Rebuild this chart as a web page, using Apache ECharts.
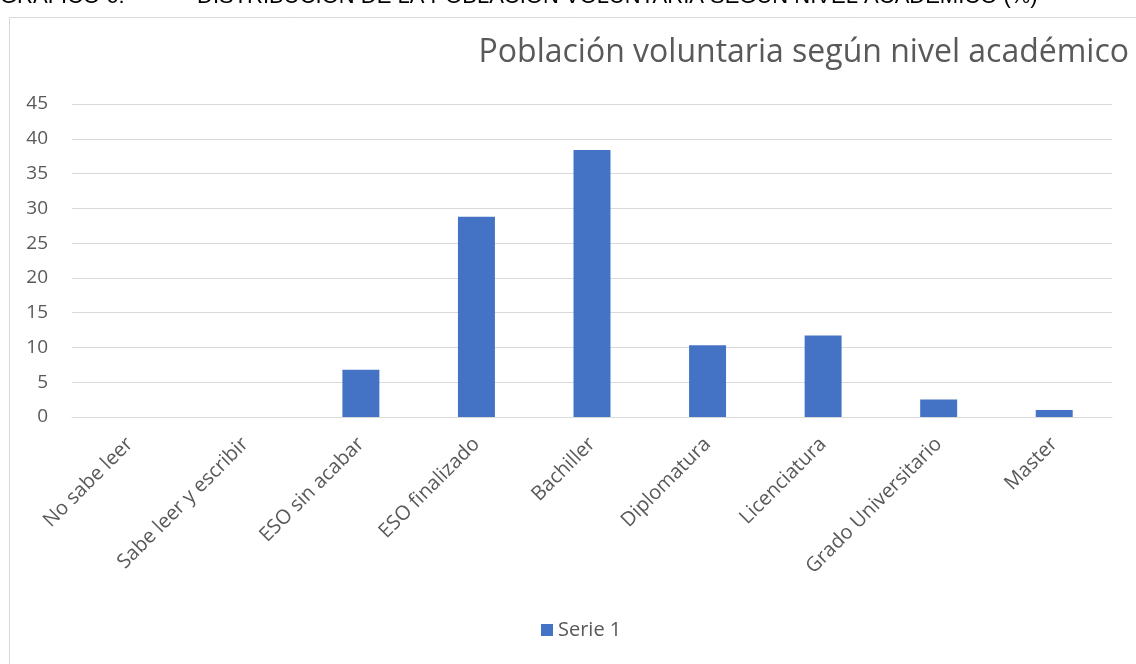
<!DOCTYPE html>
<html><head><meta charset="utf-8">
<script src="https://cdn.jsdelivr.net/npm/echarts@6/dist/echarts.min.js"></script>
<style>html,body{margin:0;padding:0;background:#fff;}#c{width:1136px;height:664px;}</style>
</head><body><div id="c"></div>
<script>
const categories = ["No sabe leer","Sabe leer y escribir","ESO sin acabar","ESO finalizado","Bachiller","Diplomatura","Licenciatura","Grado Universitario","Master"];
const serie1 = [0, 0, 6.8, 28.8, 38.4, 10.3, 11.7, 2.5, 1.0];
const yTicks = {min: 0, max: 45, interval: 5};
const chartTitle = "Población voluntaria según nivel académico";
const headerLabel = "GRÁFICO 6:";
const headerText = "DISTRIBUCIÓN DE LA POBLACIÓN VOLUNTARIA SEGÚN NIVEL ACADÉMICO (%)";

const chart = echarts.init(document.getElementById('c'));
const font = '"Open Sans", "Noto Sans", sans-serif';
const hfont = '22px "Liberation Sans", Arial, sans-serif';
chart.setOption({
  animation: false,
  textStyle: {fontFamily: font},
  graphic: [
    {type: 'rect', shape: {x: 9.5, y: 17.5, width: 1140, height: 660}, style: {fill: 'none', stroke: '#d9d9d9', lineWidth: 1}},
    {type: 'text', x: 0, y: -3, style: {text: headerLabel, fill: '#000', font: hfont, verticalAlign: 'middle'}},
    {type: 'text', x: 197, y: -3, style: {text: headerText, fill: '#000', font: hfont, verticalAlign: 'middle'}}
  ],
  title: {text: chartTitle, right: 2, top: 32, textStyle: {fontSize: 32, fontWeight: 'normal', color: '#595959', fontFamily: font}},
  grid: {left: 72, right: 24, top: 104, bottom: 247, containLabel: false},
  legend: {bottom: 19, left: 536, itemWidth: 12, itemHeight: 12, icon: 'rect', itemGap: 6,
    textStyle: {fontSize: 20, color: '#595959', fontFamily: font}, data: ['Serie 1']},
  xAxis: {type: 'category', data: categories,
    axisLine: {lineStyle: {color: '#d9d9d9', width: 1}}, axisTick: {show: false},
    axisLabel: {rotate: 45, interval: 0, fontSize: 20, color: '#595959', margin: 24, fontFamily: font}},
  yAxis: {type: 'value', min: yTicks.min, max: yTicks.max, interval: yTicks.interval,
    axisLine: {show: false}, axisTick: {show: false},
    splitLine: {lineStyle: {color: '#d9d9d9', width: 1}},
    axisLabel: {fontSize: 19, color: '#595959', margin: 24, fontFamily: font}},
  series: [{name: 'Serie 1', type: 'bar', data: serie1, barWidth: '32%',
    itemStyle: {color: '#4472C4'}}]
});
</script></body></html>
